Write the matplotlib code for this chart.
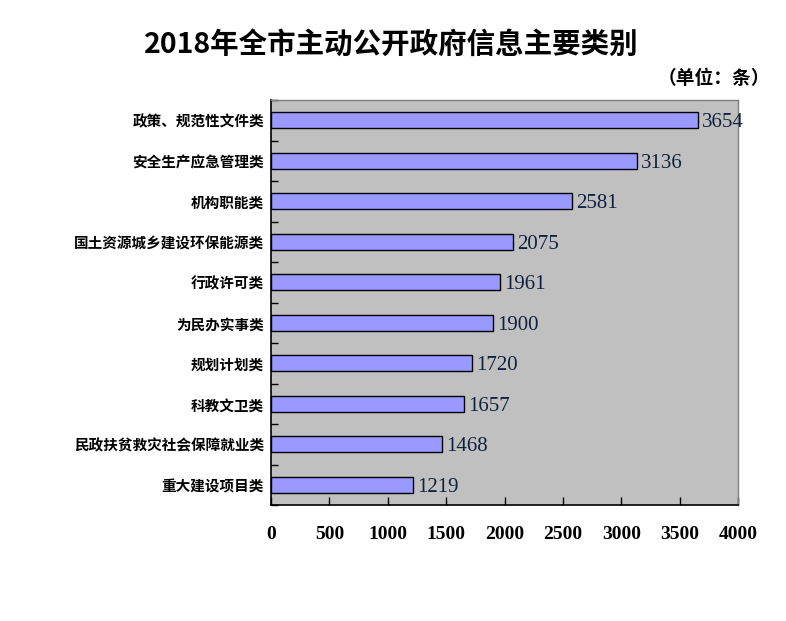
import matplotlib
matplotlib.use("Agg")
import matplotlib.pyplot as plt
from matplotlib.ticker import FixedLocator
import numpy as np

plt.rcParams['font.family'] = ['Noto Sans CJK SC', 'DejaVu Sans']

title = "2018年全市主动公开政府信息主要类别"
unit = "（单位：条）"
categories = ["政策、规范性文件类", "安全生产应急管理类", "机构职能类", "国土资源城乡建设环保能源类",
              "行政许可类", "为民办实事类", "规划计划类", "科教文卫类", "民政扶贫救灾社会保障就业类", "重大建设项目类"]
values = [3654, 3136, 2581, 2075, 1961, 1900, 1720, 1657, 1468, 1219]
xticks = [0, 500, 1000, 1500, 2000, 2500, 3000, 3500, 4000]

fig = plt.figure(figsize=(7.86, 6.21), dpi=100)
ax = fig.add_axes([271/786, 116/621, 467/786, 405/621])
ax.set_facecolor('#C0C0C0')

y = np.arange(len(categories))
ax.barh(y, values, height=0.39, color='#9999FF', edgecolor='black', linewidth=1.0, zorder=3)
ax.set_xlim(0, 4000)
ax.set_ylim(len(categories) - 0.5, -0.5)

ax.set_yticks(y)
ax.set_yticklabels(categories, fontsize=10.5, fontweight='bold')
ax.tick_params(axis='y', which='major', length=0, pad=5)
ax.yaxis.set_minor_locator(FixedLocator(np.arange(-0.5, len(categories), 1.0)))
ax.tick_params(axis='y', which='minor', direction='in', length=5, width=1, color='black')

ax.set_xticks(xticks)
ax.set_xticklabels([str(t) for t in xticks], fontsize=14, fontweight='bold', family='Liberation Serif')
ax.tick_params(axis='x', which='major', direction='in', length=6, width=1, color='black', pad=15)

for s in ['left', 'bottom']:
    ax.spines[s].set_color('black')
    ax.spines[s].set_linewidth(1.2)
for s in ['top', 'right']:
    ax.spines[s].set_color('#808080')
    ax.spines[s].set_linewidth(1.0)

for yi, v in zip(y, values):
    ax.text(v + 35, yi + 0.06, str(v), va='center', ha='left', fontsize=15,
            family='Liberation Serif', color='#102040', zorder=4, clip_on=False)

fig.text(391/786, 1 - 45/621, title, ha='center', va='center', fontsize=20.5, fontweight='bold')
fig.text(714/786, 1 - 78/621, unit, ha='center', va='center', fontsize=13.5, fontweight='bold')

fig.savefig("out.png", dpi=100)
